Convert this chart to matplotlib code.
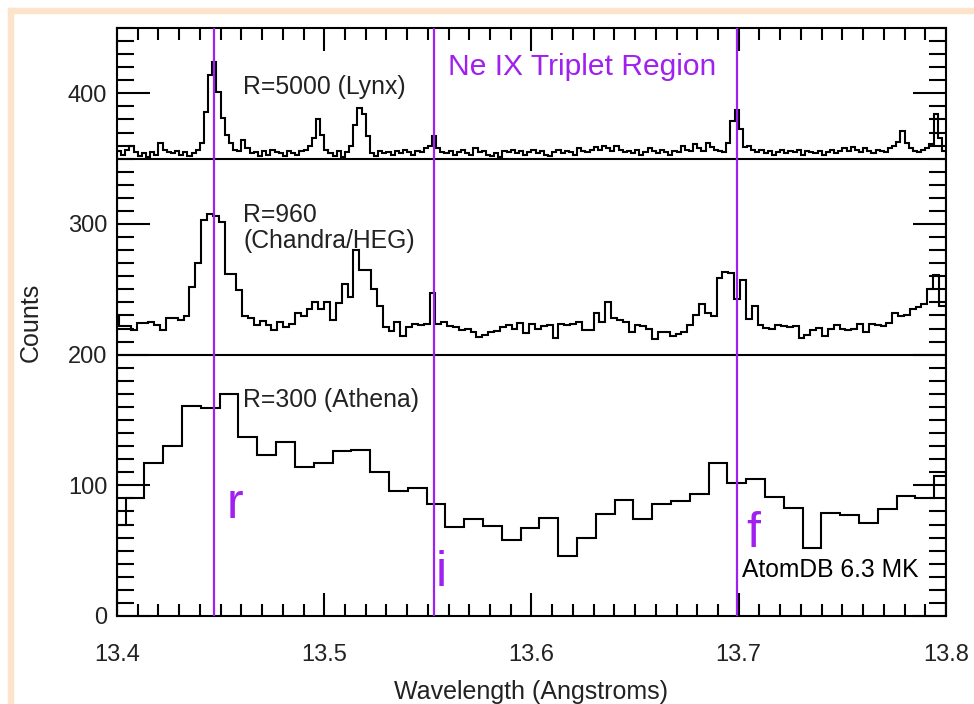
import numpy as np
import matplotlib
matplotlib.use("Agg")
import matplotlib.pyplot as plt
from matplotlib.patches import Rectangle
from matplotlib.ticker import MultipleLocator

plt.rcParams['font.family'] = ['Liberation Sans', 'DejaVu Sans']

# --- data ---
# Lynx (R=5000), bins of 0.002 A starting at 13.400
lynx_start, lynx_width = 13.400, 0.002
lynx_counts = [
    356, 353, 357, 360, 355, 352, 354, 351, 355, 353,
    362, 357, 355, 354, 356, 353, 355, 352, 354, 357,
    362, 386, 414, 424, 401, 381, 368, 362, 357, 356,
    364, 358, 354, 355, 352, 356, 353, 357, 355, 354,
    352, 356, 354, 353, 356, 357, 360, 366, 380, 368,
    357, 354, 352, 356, 351, 355, 360, 376, 389, 384,
    367, 354, 352, 356, 354, 355, 353, 356, 354, 357,
    355, 353, 356, 355, 358, 360, 367, 358, 355, 354,
    356, 353, 355, 357, 354, 353, 358, 355, 356, 353,
    352, 354, 351, 356, 355, 357, 354, 356, 353, 355,
    357, 354, 356, 353, 352, 355, 357, 354, 356, 355,
    353, 358, 356, 355, 357, 359, 357, 360, 358, 356,
    360, 357, 355, 356, 354, 357, 353, 355, 358, 356,
    354, 357, 355, 353, 356, 355, 360, 357, 356, 361,
    358, 356, 362, 359, 357, 356, 355, 362, 379, 387,
    373, 359, 360, 357, 355, 357, 354, 356, 353, 355,
    357, 354, 356, 355, 357, 353, 356, 355, 354, 356,
    353, 355, 357, 354, 356, 358, 356, 359, 357, 355,
    358, 356, 354, 357, 356, 355, 358, 360, 363, 371,
    362, 358, 356, 355, 357, 358, 361, 384, 366, 356,
]

# Chandra/HEG (R=960)
heg_start, heg_width = 13.39819, 0.002826
heg_counts = [
    229, 222, 222, 218.6, 224.3, 224.3, 225, 223, 219, 228,
    228, 226.8, 229.9, 251.6, 270.2, 302.7, 307.3, 306, 301.4, 261.8,
    261.8, 249.8, 229.4, 228, 223, 226, 223, 219, 225, 221,
    223.6, 232, 229.4, 235, 240, 234.6, 240, 226.6, 239.6, 254.4,
    244.2, 280, 265, 265, 250.3, 237, 221, 218.3, 225, 214.6,
    221, 223.6, 223, 223.6, 247.3, 223.6, 225, 221.6, 221, 219,
    219.7, 217, 213.6, 215, 217, 218.3, 221, 223, 219.7, 224,
    216.5,
    223.8, 219.7, 221.7, 223, 212.8, 223.8, 223, 223.8, 225.3, 219,
    219, 231.9, 225.3, 240, 227.8, 226.6, 225.3, 217.6, 223, 221.7,
    219.7, 211.7, 217.3, 217.3, 214.4, 215.7, 217.6, 223, 230.6, 239,
    231.9, 229.9, 258.8, 263.1, 262.6, 242.7, 257, 227.1, 237, 223,
    220.4, 219.7, 223, 222.2, 221.2, 221.7, 212.8, 215.3, 219, 220.4,
    214.6, 219.7, 223, 219.7, 219, 219.7, 223.8, 217.3, 223.8, 223,
    221.7, 224.4, 231.9, 229.9, 230.6, 235, 236.5, 239, 250.3, 261.3,
    237, 237,
]

# Athena (R=300)
ath_start, ath_width = 13.3951, 0.009074
ath_counts = [
    70, 90, 117, 130, 161, 159, 170, 137, 123, 133,
    114, 117, 126, 127, 110, 96, 98, 86, 68, 74,
    68.5, 58, 67, 75, 46, 60, 78, 89, 74, 86,
    88, 93, 117, 102, 105, 91, 83, 52, 79, 77,
    71, 82, 92, 90, 107,
]

# Ne IX lines
line_waves = [13.447, 13.553, 13.699]
line_names = ['r', 'i', 'f']

purple = '#A020F0'
ink = '#222222'

fig = plt.figure(figsize=(9.74, 7.04), dpi=100)

# peach frame (only top and left visible)
fig.patches.append(Rectangle((8 / 974, 0), 5 / 974, 696 / 704, transform=fig.transFigure,
                             color='#FCE4CA', zorder=0))
fig.patches.append(Rectangle((8 / 974, 691 / 704), 966 / 974, 5 / 704, transform=fig.transFigure,
                             color='#FCE4CA', zorder=0))

ax = fig.add_axes([117 / 974, 88 / 704, 829 / 974, 588 / 704])

def edges(start, width, n):
    return start + width * np.arange(n + 1)

ax.stairs(lynx_counts, edges(lynx_start, lynx_width, len(lynx_counts)), color='k', lw=1.5)
ax.stairs(heg_counts, edges(heg_start, heg_width, len(heg_counts)), color='k', lw=1.5)
ax.stairs(ath_counts, edges(ath_start, ath_width, len(ath_counts)), color='k', lw=1.5)

ax.axhline(350, color='k', lw=1.5)
ax.axhline(200, color='k', lw=1.5)

for w in line_waves:
    ax.axvline(w, color=purple, lw=1.6, zorder=3)

ax.set_xlim(13.4, 13.8)
ax.set_ylim(0, 450)

ax.xaxis.set_major_locator(MultipleLocator(0.1))
ax.xaxis.set_minor_locator(MultipleLocator(0.01))
ax.yaxis.set_major_locator(MultipleLocator(100))
ax.yaxis.set_minor_locator(MultipleLocator(10))
ax.set_xticks([13.4, 13.5, 13.6, 13.7, 13.8])
ax.set_xticklabels(['13.4', '13.5', '13.6', '13.7', '13.8'])
ax.set_yticks([0, 100, 200, 300, 400])
ax.set_yticklabels(['0', '100', '200', '300', '400'])

ax.tick_params(axis='both', which='both', direction='in', top=True, right=True,
               width=1.5, labelsize=17, labelcolor=ink)
ax.tick_params(axis='x', which='major', length=16.5, pad=20)
ax.tick_params(axis='x', which='minor', length=8.3)
ax.tick_params(axis='y', which='major', length=23.8, pad=7)
ax.tick_params(axis='y', which='minor', length=12.2)
for s in ax.spines.values():
    s.set_linewidth(1.5)

ax.set_xlabel('Wavelength (Angstroms)', fontsize=18, color=ink, labelpad=10)
ax.set_ylabel('Counts', fontsize=18, color=ink, labelpad=18)

ax.text(13.4609, 405, 'R=5000 (Lynx)', fontsize=17.8, color=ink, va='center')
ax.text(13.4609, 307, 'R=960', fontsize=17.8, color=ink, va='center')
ax.text(13.4609, 287, '(Chandra/HEG)', fontsize=17.8, color=ink, va='center')
ax.text(13.4609, 165.5, 'R=300 (Athena)', fontsize=17.8, color=ink, va='center')
ax.text(13.5599, 420, 'Ne IX Triplet Region', fontsize=21.6, color=purple, va='center')
ax.text(13.7014, 30, 'AtomDB 6.3 MK', fontsize=17.7, color='k', va='baseline')

label_pos = [(13.457, 75), (13.5565, 23), (13.7072, 53)]
for name, (lx, ly) in zip(line_names, label_pos):
    ax.text(lx, ly, name, fontsize=36, color=purple, ha='center', va='baseline')

fig.savefig('out.png', dpi=100)
